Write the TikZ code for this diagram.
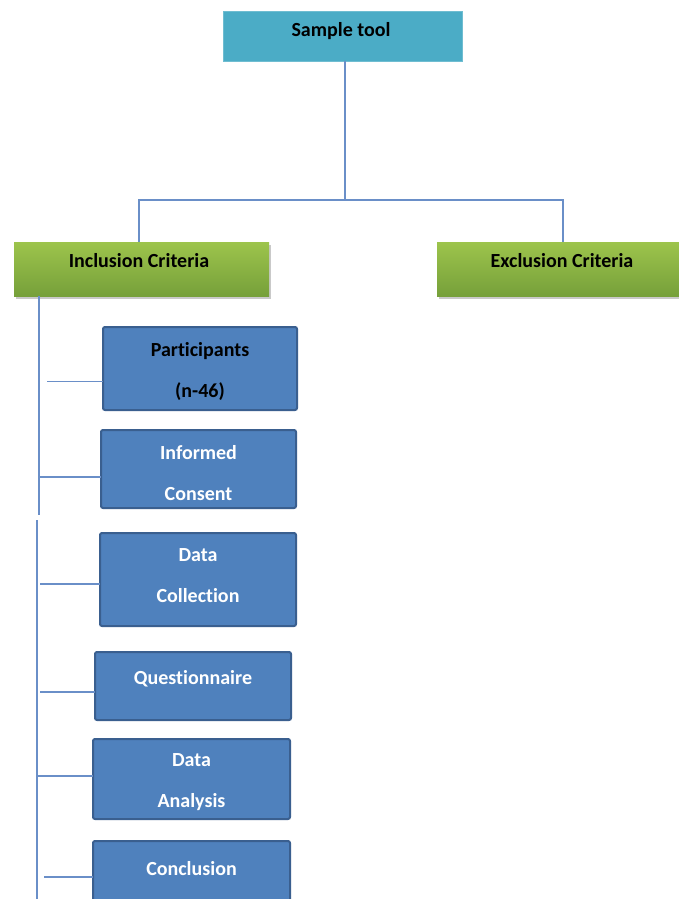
\documentclass[tikz,border=0pt]{standalone}
\usepackage{fontspec}
\setmainfont{Carlito}[Ligatures=CommonOff]
\usetikzlibrary{shadows}
\definecolor{teal1}{HTML}{4BACC6}
\definecolor{gtop}{HTML}{9DC44C}
\definecolor{gbot}{HTML}{76A03A}
\definecolor{bfill}{HTML}{4F81BD}
\definecolor{bdraw}{HTML}{3A5F8F}
\definecolor{lcol}{HTML}{6A8FC8}
\tikzset{
  x={(1pt,0pt)}, y={(0pt,-1pt)},
  tealbox/.style={rectangle, fill=teal1, draw=teal1!80!white, line width=0.6pt, inner sep=0pt, outer sep=0pt},
  greenbox/.style={rectangle, top color=gtop, bottom color=gbot, draw=none, inner sep=0pt, outer sep=0pt,
     drop shadow={shadow xshift=2pt, shadow yshift=-3pt, opacity=0.35, fill=black!60}},
  bluebox/.style={rectangle, rounded corners=2pt, fill=bfill, draw=bdraw, line width=2pt, inner sep=0pt, outer sep=0pt},
  txt/.style={font=\fontsize{20}{41}\selectfont\bfseries, align=center, inner sep=0pt},
  wtxt/.style={txt, text=white},
  conn/.style={draw=lcol, line width=1.7pt},
}
\begin{document}
\begin{tikzpicture}
\useasboundingbox (0,0) rectangle (679,899);
\fill[white] (0,0) rectangle (679,899);
% top box
\node[tealbox, minimum width=239pt, minimum height=50pt] (st) at (342.5,36) {};
\node[txt] (stt) at (341,31) {Sample tool};
% criteria boxes
\node[greenbox, minimum width=255pt, minimum height=54pt] (inc) at (141.5,269) {};
\node[txt] (inct) at (139,261) {Inclusion Criteria};
\node[greenbox, minimum width=252pt, minimum height=54pt] (exc) at (563,269) {};
\node[txt] (exct) at (562,261) {Exclusion Criteria};
% tree connectors
\draw[conn] ([xshift=2.5pt]st.south) -- ++(0,139) coordinate (j);
\draw[conn] ([xshift=-2.5pt]inc.north) -- ++(0,-42) -| (exc.north);
% blue boxes
\node[bluebox, minimum width=194pt, minimum height=83pt] (p) at (200,368.5) {};
\node[txt] (pt) at (200,371) {Participants\\(n-46)};
\node[bluebox, minimum width=195pt, minimum height=78pt] (ic) at (198.5,469) {};
\node[wtxt] (ict) at (198.5,473) {Informed\\Consent};
\node[bluebox, minimum width=196pt, minimum height=93pt] (dc) at (198,579.5) {};
\node[wtxt] (dct) at (198,576) {Data\\Collection};
\node[bluebox, minimum width=196pt, minimum height=68pt] (q) at (193,686) {};
\node[wtxt] (qt) at (193,679) {Questionnaire};
\node[bluebox, minimum width=197pt, minimum height=80pt] (da) at (191.5,779) {};
\node[wtxt] (dat) at (191.5,782) {Data\\Analysis};
\node[bluebox, minimum width=197pt, minimum height=69pt] (c) at (191.5,875.5) {};
\node[wtxt] (ct) at (191.5,869) {Conclusion};
% spine
\coordinate (s1) at (39,515);
\draw[conn] ([xshift=25pt]inc.south west) -- (s1);
\coordinate (s2a) at (37,520);
\coordinate (s2b) at (37,905);
\draw[conn] (s2a) -- (s2b);
% branches
\draw[conn] ([yshift=-13pt]p.west) -- ++(-56,0);
\draw[conn] ([yshift=-8pt]ic.west) -- ++(-62,0);
\draw[conn] ([yshift=-4.5pt]dc.west) -- ++(-60,0);
\draw[conn] ([yshift=-6pt]q.west) -- ++(-55,0);
\draw[conn] ([yshift=3pt]da.west) -- ++(-56,0);
\draw[conn] ([yshift=-1.5pt]c.west) -- ++(-49,0);
\end{tikzpicture}
\end{document}
